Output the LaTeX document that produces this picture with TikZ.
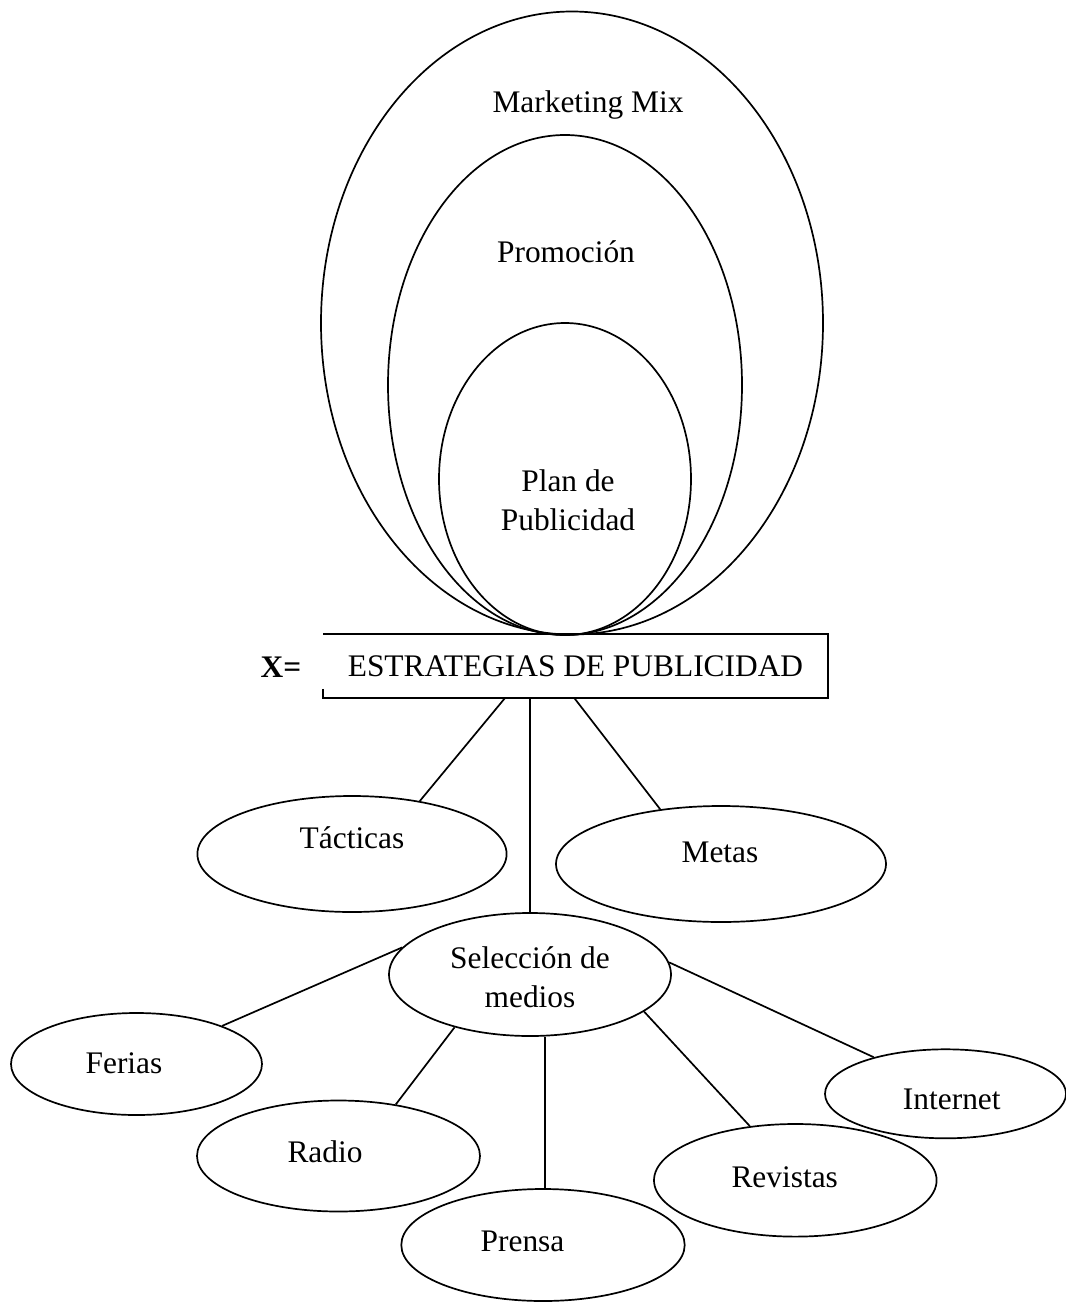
\documentclass[tikz,border=0pt]{standalone}
\usepackage{fontspec}
\setmainfont{Liberation Serif}
\usetikzlibrary{shapes.geometric,calc}
\begin{document}
\begin{tikzpicture}[x=0.5pt,y=-0.5pt,
  font=\fontsize{15.7pt}{19.5pt}\selectfont,
  every path/.style={line width=0.85pt},
  oval/.style={draw,ellipse,inner sep=0pt,line width=0.85pt},
  txt/.style={inner sep=0pt,align=center},
  link/.style={draw,line width=0.85pt}]
\useasboundingbox (0,0) rectangle (1066,1302);

% nested ellipses
\node[oval,minimum width=251pt,minimum height=311.5pt] (mm) at (572,323) {};
\node[oval,minimum width=177pt,minimum height=250pt] (promo) at (565,385) {};
\node[oval,minimum width=126pt,minimum height=156pt] (plan) at (565,479) {};
\node[txt] (tmm) at (588,105) {Marketing Mix};
\node[txt] (tpromo) at (566,252) {Promoción};
\node[txt] (tplan) at (568,500) {Plan de\\Publicidad};

% main box
\node[inner sep=0pt,minimum width=251.5pt,minimum height=31pt] (box) at (575.5,666) {ESTRATEGIAS DE PUBLICIDAD};
\draw ([yshift=4.5pt]box.south west) -- (box.south west) -- (box.south east) -- (box.north east) -- (box.north west);
\node[txt] (xeq) at (281,667) {\textbf{X=}};

% second level
\node[oval,minimum width=154.6pt,minimum height=58pt] (tac) at (352,854) {};
\node[txt] (ttac) at (352,838) {Tácticas};
\node[oval,minimum width=165pt,minimum height=58pt] (met) at (721,864) {};
\node[txt] (tmet) at (720,852) {Metas};
\node[oval,minimum width=141pt,minimum height=61.5pt] (sel) at (530,974.5) {};
\node[txt] (tsel) at (530,977) {Selección de\\medios};

\draw[link] ($(box.south west)+(182,0)$) -- (tac.38);
\draw[link] ($(box.south west)+(251,0)$) -- (met.138);
\draw[link] (sel.north) -- (sel.north |- box.south);

% media
\node[oval,minimum width=125.5pt,minimum height=51pt] (fer) at (136.5,1064) {};
\node[txt] (tfer) at (124,1063) {Ferias};
\node[oval,minimum width=141.5pt,minimum height=55.5pt] (rad) at (338.5,1156) {};
\node[txt] (trad) at (325,1152) {Radio};
\node[oval,minimum width=141.7pt,minimum height=56pt] (pre) at (543,1245) {};
\node[txt] (tpre) at (522.5,1241) {Prensa};
\node[oval,minimum width=141.3pt,minimum height=56.3pt] (rev) at (795.3,1180.3) {};
\node[txt] (trev) at (784.7,1177) {Revistas};
\node[oval,minimum width=120.5pt,minimum height=44.5pt] (int) at (945.5,1093.8) {};
\node[txt] (tint) at (951.8,1099) {Internet};

\draw[link] (sel.168) -- (fer.24);
\draw[link] (sel.215) -- (rad.42);
\draw[link] ($(pre.north)+(2,0)$) -- ($(pre.north |- sel.south)+(2,0)$);
\draw[link] (sel.342) -- (rev.130);
\draw[link] (sel.5) -- (int.153);
\end{tikzpicture}
\end{document}
